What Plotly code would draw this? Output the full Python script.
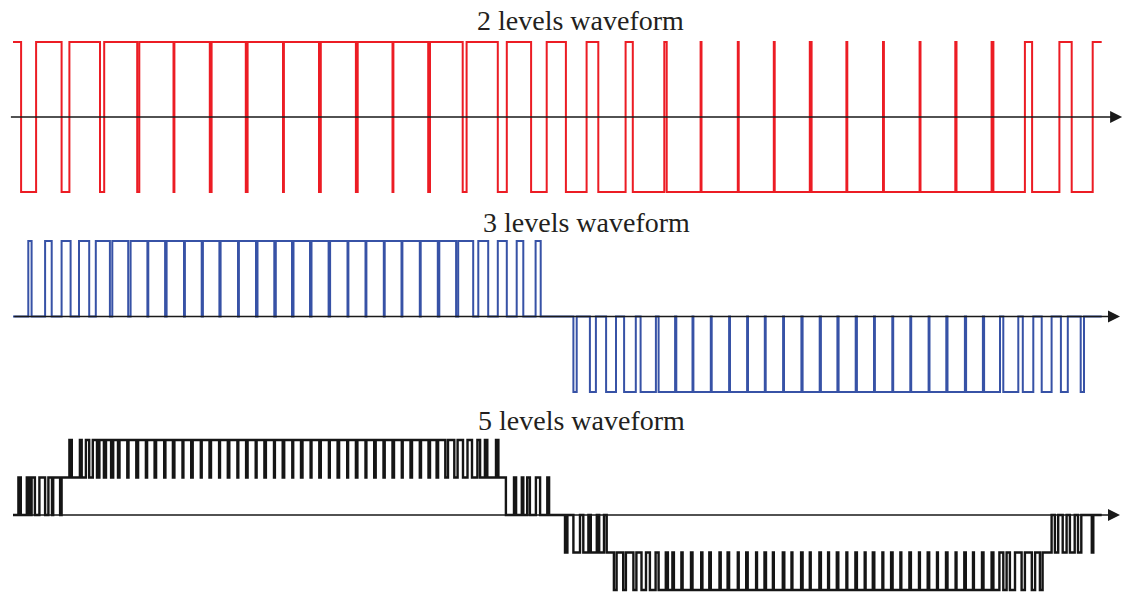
import plotly.graph_objects as go

# ---------------- data (switching angles in electrical degrees) ----------------
titles = ["2 levels waveform", "3 levels waveform", "5 levels waveform"]
end_deg = 362.9

# 2-level: output is +1 except inside these intervals (-1)
red_low_from = [2.7, 16.2, 29.0, 41.4, 53.5, 65.6, 77.6, 90.0, 102.0, 114.3, 126.5, 138.4,
                149.9, 161.6, 172.7, 184.3, 195.1, 206.6, 217.9, 229.5, 241.9, 253.9, 266.2,
                278.1, 290.3, 302.5, 314.5, 326.8, 339.7, 352.9]
red_low_to = [7.7, 18.8, 30.4, 42.1, 53.8, 66.2, 78.2, 90.3, 102.6, 114.9, 126.8, 139.0,
              151.2, 164.6, 177.9, 191.2, 204.2, 217.1, 229.2, 241.6, 253.6, 265.6, 277.8,
              290.0, 302.2, 314.1, 326.2, 337.3, 348.8, 359.9]

# 3-level: output is 0 except inside these intervals
blue_pos_from = [5.1, 10.7, 16.2, 22.0, 27.6, 33.1, 39.2, 45.1, 51.2, 57.3, 63.3, 69.2, 75.3,
                 81.5, 87.6, 93.5, 99.5, 105.7, 111.8, 117.8, 123.9, 129.8, 135.9, 142.1,
                 148.4, 155.1, 161.6, 167.9, 174.2]
blue_pos_to = [6.2, 12.9, 19.2, 25.4, 32.3, 38.4, 44.8, 50.7, 57.0, 62.9, 68.8, 75.0, 81.0,
               87.1, 93.0, 99.0, 105.2, 111.5, 117.5, 123.6, 129.5, 135.6, 141.6, 147.7,
               153.4, 158.4, 164.6, 170.1, 175.9]
blue_neg_from = [186.8, 192.3, 197.7, 203.7, 209.2, 215.2, 221.1, 226.8, 232.9, 239.0, 245.0,
                 250.9, 257.0, 263.2, 269.3, 275.2, 281.3, 287.3, 293.4, 299.4, 305.5, 311.5,
                 317.7, 323.7, 330.1, 336.6, 342.9, 349.3, 355.9]
blue_neg_to = [187.9, 194.3, 201.0, 207.6, 214.3, 220.7, 226.5, 232.6, 238.7, 244.7, 250.6,
               256.7, 262.8, 268.9, 274.8, 280.9, 287.0, 293.1, 299.1, 305.2, 311.1, 317.3,
               323.3, 329.0, 335.1, 340.1, 346.2, 351.6, 357.0]

# 5-level: (angle, level after the switch)
black_edges = [
    (0.0, 0),
    (1.8, 1), (2.6, 0), (4.6, 1), (5.4, 0), (6.2, 1), (7.3, 0), (8.8, 1), (10.7, 0),
    (11.8, 1), (13.0, 0), (13.4, 1), (15.7, 0), (16.2, 1),
    (18.8, 2), (19.6, 1), (22.3, 2), (22.9, 1), (24.3, 2), (25.4, 1), (26.6, 2), (28.0, 1),
    (28.8, 2), (30.3, 1), (31.0, 2), (32.7, 1), (33.4, 2),
    (35.0, 1), (35.5, 2), (38.1, 1), (38.5, 2), (41.1, 1), (41.7, 2), (44.3, 1), (44.7, 2),
    (47.2, 1), (47.7, 2), (50.4, 1), (50.8, 2), (53.3, 1), (53.8, 2), (56.5, 1), (56.8, 2),
    (59.4, 1), (59.9, 2), (62.6, 1), (62.9, 2), (65.5, 1), (66.0, 2), (68.7, 1), (69.0, 2),
    (71.6, 1), (72.1, 2), (74.8, 1), (75.1, 2), (77.7, 1), (78.2, 2), (80.9, 1), (81.2, 2),
    (83.8, 1), (84.3, 2), (87.0, 1), (87.3, 2), (89.9, 1), (90.4, 2), (93.1, 1), (93.4, 2),
    (96.0, 1), (96.5, 2), (99.2, 1), (99.5, 2), (102.1, 1), (102.6, 2), (105.3, 1), (105.6, 2),
    (108.2, 1), (108.7, 2), (111.4, 1), (111.7, 2), (114.3, 1), (114.8, 2), (117.5, 1),
    (117.8, 2), (120.4, 1), (120.9, 2), (123.5, 1), (123.9, 2), (126.5, 1), (127.0, 2),
    (129.6, 1), (129.9, 2), (132.5, 1), (133.0, 2), (135.6, 1), (136.0, 2), (138.5, 1),
    (139.0, 2), (141.2, 1), (141.7, 2), (144.1, 1), (145.0, 2), (147.1, 1), (148.2, 2),
    (150.0, 1), (151.5, 2), (153.0, 1), (154.8, 2), (155.7, 1), (157.3, 2), (158.1, 1),
    (161.0, 2), (161.8, 1),
    (164.3, 0), (167.0, 1), (167.7, 0), (169.6, 1), (170.1, 0), (171.4, 1), (172.3, 0),
    (174.3, 1), (175.7, 0), (178.1, 1), (178.7, 0),
    (184.0, -1), (184.8, 0), (186.8, -1), (189.0, 0), (190.1, -1), (191.8, 0), (192.6, -1),
    (194.6, 0), (195.4, -1), (197.0, 0), (197.9, -1),
    (200.3, -2), (201.2, -1), (203.4, -2), (204.3, -1), (206.8, -2), (207.8, -1), (209.5, -2),
    (211.0, -1), (212.3, -2), (214.2, -1), (215.2, -2), (217.6, -1), (218.3, -2),
    (219.8, -1), (220.3, -2), (222.8, -1), (223.2, -2), (226.0, -1), (226.5, -2), (229.4, -1),
    (229.8, -2), (232.1, -1), (232.6, -2), (235.5, -1), (235.9, -2), (238.2, -1), (238.7, -2),
    (241.6, -1), (241.9, -2), (244.4, -1), (244.9, -2), (247.7, -1), (248.0, -2), (250.5, -1),
    (251.0, -2), (253.3, -1), (253.6, -2), (256.6, -1), (257.1, -2), (259.5, -1), (259.8, -2),
    (262.7, -1), (263.2, -2), (265.6, -1), (265.9, -2), (268.8, -1), (269.3, -2), (271.7, -1),
    (272.0, -2), (274.6, -1), (275.1, -2), (277.8, -1), (278.1, -2), (280.8, -1), (281.3, -2),
    (283.9, -1), (284.2, -2), (286.6, -1), (287.1, -2), (289.8, -1), (290.1, -2), (292.7, -1),
    (293.2, -2), (295.8, -1), (296.1, -2), (298.8, -1), (299.3, -2), (302.0, -1), (302.3, -2),
    (304.9, -1), (305.4, -2), (308.0, -1), (308.3, -2), (311.0, -1), (311.5, -2), (314.2, -1),
    (314.5, -2), (317.1, -1), (317.6, -2), (320.0, -1), (320.3, -2), (323.0, -1), (323.5, -2),
    (326.2, -1), (326.8, -2), (328.8, -1), (330.1, -2),
    (331.2, -1), (332.3, -2), (334.0, -1), (336.2, -2), (337.3, -1), (339.6, -2), (340.7, -1),
    (342.3, -2), (343.2, -1),
    (346.2, 0), (347.3, -1), (348.4, 0), (349.9, -1), (351.2, 0), (352.3, -1), (353.9, 0),
    (355.0, -1), (356.1, 0), (359.6, -1), (360.1, 0), (362.9, 0),
]

# ---------------- build step traces ----------------
def from_intervals(base, intervals, end):
    xs, ys = [0.0], [base]
    for f, t, lvl in sorted(intervals):
        xs += [f, t]
        ys += [lvl, base]
    xs.append(end)
    ys.append(base)
    return xs, ys

rx, ry = from_intervals(1, [(f, t, -1) for f, t in zip(red_low_from, red_low_to)], end_deg)
bx, by = from_intervals(
    0,
    [(f, t, 1) for f, t in zip(blue_pos_from, blue_pos_to)]
    + [(f, t, -1) for f, t in zip(blue_neg_from, blue_neg_to)],
    end_deg,
)
kx = [e[0] for e in black_edges]
ky = [e[1] for e in black_edges]

RED = "#ec1c24"
BLUE = "#3752a6"
BLACK = "#151515"
AXIS = "#1a1a1a"

fig = go.Figure()
fig.add_trace(go.Scatter(x=rx, y=ry, mode="lines", yaxis="y",
                         line=dict(color=RED, width=2, shape="hv"), hoverinfo="skip"))
fig.add_trace(go.Scatter(x=bx, y=by, mode="lines", yaxis="y2",
                         line=dict(color=BLUE, width=2, shape="hv"), hoverinfo="skip"))
fig.add_trace(go.Scatter(x=kx, y=ky, mode="lines", yaxis="y3",
                         line=dict(color=BLACK, width=2.4, shape="hv"), hoverinfo="skip"))

# time axes with arrow heads
annotations = []
for yref, tail, tip in [("y", -1.2, 369.7), ("y2", -0.1, 369.0), ("y3", -0.1, 369.0)]:
    annotations.append(dict(
        x=tip, y=0, ax=tail, ay=0, xref="x", yref=yref, axref="x", ayref=yref,
        text="", showarrow=True, arrowhead=2, arrowsize=1.6, arrowwidth=1.5,
        arrowcolor=AXIS, standoff=0,
    ))

for title, px, py in zip(titles, [0.516, 0.521, 0.517], [0.966, 0.625, 0.289]):
    annotations.append(dict(
        text=title, x=px, y=py, xref="paper", yref="paper", showarrow=False,
        xanchor="center", yanchor="middle",
        font=dict(family="Liberation Serif, Times New Roman, serif", size=28, color="#231f20"),
    ))

fig.update_layout(
    width=1125, height=592, autosize=False,
    margin=dict(l=0, r=0, t=0, b=0, pad=0),
    paper_bgcolor="white", plot_bgcolor="white",
    showlegend=False,
    xaxis=dict(range=[-13 / 3, 1112 / 3], visible=False, domain=[0, 1]),
    yaxis=dict(range=[-6.333, 1.56], visible=False, domain=[0, 1]),
    yaxis2=dict(range=[-3.649, 4.192], visible=False, overlaying="y"),
    yaxis3=dict(range=[-2.053, 13.733], visible=False, overlaying="y"),
    annotations=annotations,
)

fig.write_html(
    "out.html",
    config={"displayModeBar": False, "staticPlot": True},
    post_script="document.body.style.margin='0';document.body.style.overflow='hidden';",
)
